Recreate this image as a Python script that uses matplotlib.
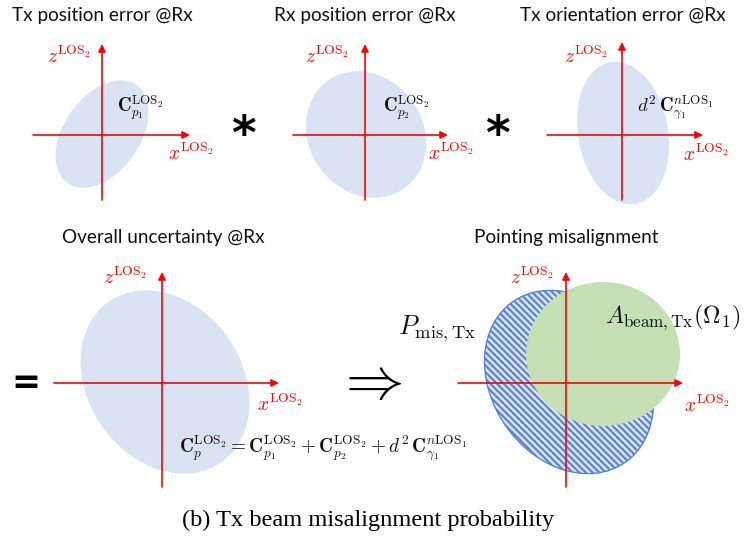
import matplotlib
matplotlib.use("Agg")
import matplotlib.pyplot as plt
from matplotlib.patches import Ellipse

plt.rcParams['mathtext.fontset'] = 'cm'
plt.rcParams['hatch.linewidth'] = 1.5

# ---- data (pixel-space diagram description) ----
titles = ["Tx position error @Rx", "Rx position error @Rx", "Tx orientation error @Rx",
          "Overall uncertainty @Rx", "Pointing misalignment"]
title_xy = [(102, 15), (365, 15), (623, 15), (163, 237), (566, 237)]
# ellipse: center x, center y, semi-major, semi-minor, screen angle (deg CCW)
ell_cx = [102, 366, 623, 165, 569]
ell_cy = [134, 134.5, 133, 382, 382]
ell_a = [60, 66, 72, 98, 98]
ell_b = [38, 57, 45, 77, 77]
ell_ang = [55, 125, 100, 125, 125]
# axes: horizontal (x0, x1, y), vertical (x, ybottom, ytop)
hax = [(33, 190, 135), (293, 448, 135), (547, 703, 135), (54, 279, 383), (458, 683, 383)]
vax = [(102, 200, 44), (365, 200, 44), (622, 200, 42), (162, 487, 272), (566, 487, 272)]
zlab_xy = [(69, 56), (327, 56), (586, 56), (125, 277), (532, 277)]
xlab_xy = [(191, 153), (451, 153), (706, 154), (280, 404), (707, 405)]
cov_labels = [r"$\mathbf{C}_{p_1}^{\mathrm{LOS}_2}$", r"$\mathbf{C}_{p_2}^{\mathrm{LOS}_2}$",
              r"$d^2\,\mathbf{C}_{\gamma_1}^{n\mathrm{LOS}_1}$"]
cov_xy = [(140, 108), (406, 108), (675, 108)]
equation = (r"$\mathbf{C}_{p}^{\mathrm{LOS}_2} = \mathbf{C}_{p_1}^{\mathrm{LOS}_2} + "
            r"\mathbf{C}_{p_2}^{\mathrm{LOS}_2} + d^2\,\mathbf{C}_{\gamma_1}^{n\mathrm{LOS}_1}$")
beam_cx, beam_cy, beam_w, beam_h = 603, 354, 154, 144
caption = "(b) Tx beam misalignment probability"

ELL_COLOR = "#dae3f3"
RED = "#ff0000"
HATCH_COLOR = "#5582d2"
GREEN = "#c5e0b4"

fig = plt.figure(figsize=(7.44, 5.40), dpi=100)
ax = fig.add_axes([0, 0, 1, 1])
ax.set_xlim(0, 744)
ax.set_ylim(540, 0)
ax.axis("off")

for i in range(5):
    if i < 4:
        e = Ellipse((ell_cx[i], ell_cy[i]), 2 * ell_a[i], 2 * ell_b[i], angle=-ell_ang[i],
                    facecolor=ELL_COLOR, edgecolor="none", zorder=1)
        ax.add_patch(e)
    else:
        e = Ellipse((ell_cx[i], ell_cy[i]), 2 * ell_a[i], 2 * ell_b[i], angle=-ell_ang[i],
                    facecolor=ELL_COLOR, edgecolor=HATCH_COLOR, hatch="\\" * 5, lw=1.0, zorder=1)
        ax.add_patch(e)
        c = Ellipse((beam_cx, beam_cy), beam_w, beam_h, facecolor=GREEN, edgecolor="none", zorder=2)
        ax.add_patch(c)

    x0, x1, yh = hax[i]
    ax.annotate("", xy=(x1, yh), xytext=(x0, yh),
                arrowprops=dict(arrowstyle="-|>", color=RED, lw=1.2, mutation_scale=11,
                                shrinkA=0, shrinkB=0), zorder=5)
    xv, yb, yt = vax[i]
    ax.annotate("", xy=(xv, yt), xytext=(xv, yb),
                arrowprops=dict(arrowstyle="-|>", color=RED, lw=1.2, mutation_scale=11,
                                shrinkA=0, shrinkB=0), zorder=5)
    ax.text(*title_xy[i], titles[i], ha="center", va="center", fontsize=13.7,
            family="Lato", color="#111111")
    ax.text(*zlab_xy[i], r"$z^{\mathrm{LOS}_2}$", ha="center", va="center", fontsize=14, color=RED)
    ax.text(*xlab_xy[i], r"$x^{\mathrm{LOS}_2}$", ha="center", va="center", fontsize=14, color=RED)

for lab, (x, y) in zip(cov_labels, cov_xy):
    ax.text(x, y, lab, ha="center", va="center", fontsize=13.5, color="#111111", zorder=6)

ax.text(323, 448, equation, ha="center", va="center", fontsize=13.8, color="#111111", zorder=6)
ax.text(673, 318, r"$A_{\mathrm{beam,Tx}}(\mathbf{\Omega}_1)$", ha="center", va="center",
        fontsize=17.5, color="#111111", zorder=6)
ax.text(437, 329, r"$P_{\mathrm{mis,Tx}}$", ha="center", va="center", fontsize=19,
        color="#111111", zorder=6)

for x in (243, 497):
    ax.text(x, 137, "*", ha="center", va="center", fontsize=34, fontweight="bold",
            family="DejaVu Sans", color="black")
ax.text(26, 383, "=", ha="center", va="center", fontsize=25, fontweight="bold",
        family="DejaVu Sans", color="black")
ax.text(369, 383, r"$\Rightarrow$", ha="center", va="center", fontsize=42, color="black")

ax.text(368, 520, caption, ha="center", va="center", fontsize=17.6, family="Liberation Serif",
        color="black")

fig.savefig("out.png", dpi=100)
